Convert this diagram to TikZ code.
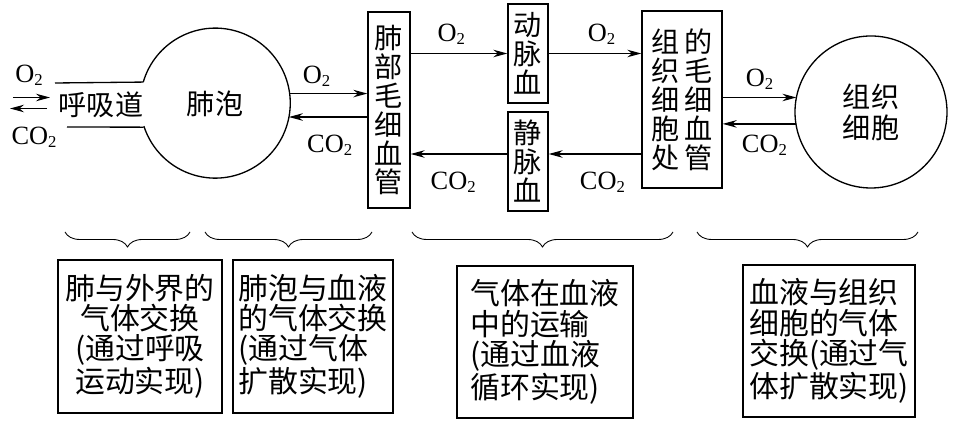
\documentclass[tikz,border=0pt]{standalone}
\usepackage{fontspec}
\setmainfont{Liberation Serif}
\newfontfamily\cjk{Noto Sans CJK SC}
\usetikzlibrary{arrows.meta,decorations.pathreplacing}
\newcommand{\Otwo}{O\lower.25ex\hbox{\fontsize{9.5}{10}\selectfont 2}}
\newcommand{\COtwo}{CO\lower.25ex\hbox{\fontsize{9.5}{10}\selectfont 2}}

\begin{document}
\begin{tikzpicture}[>={Stealth[length=2.8mm,width=1.5mm]}, line width=0.75pt,
  vbox/.style={draw, inner sep=0pt, align=center, font=\cjk\fontsize{16}{16.5}\selectfont},
  ball/.style={circle, inner sep=0pt, outer sep=0pt, align=center, font=\cjk\fontsize{16}{17.5}\selectfont},
  gas/.style={inner sep=1pt, font=\fontsize{15}{16}\selectfont},
  note/.style={draw, inner sep=0pt, font=\cjk\fontsize{17}{17.2}\selectfont},
  brc/.style={decorate, line width=0.5pt, decoration={brace, mirror, amplitude=0.3cm}}
]
\useasboundingbox (0,0) rectangle (19.24,8.46);
% cells (circles)
\node[ball, minimum size=3cm] (alv) at (4.30,6.38) {肺泡};
\node[ball, draw, minimum size=3.04cm] (tcell) at (17.42,6.22) {组织\\细胞};
\draw (alv.163.7) arc[start angle=163.7, end angle=-162.1, radius=1.5cm];
% capillaries and blood
\node[vbox, minimum width=0.84cm, minimum height=3.92cm] (lcap) at (7.78,6.26) {肺\\部\\毛\\细\\血\\管};
\node[vbox, minimum width=0.8cm, minimum height=1.98cm] (art) at (10.56,7.39) {动\\脉\\血};
\node[vbox, minimum width=0.8cm, minimum height=1.98cm] (ven) at (10.56,5.23) {静\\脉\\血};
\node[vbox, minimum width=1.6cm, minimum height=3.54cm] (tcap) at (13.64,6.47) {组\,的\\织\,毛\\细\,细\\胞\,血\\处\,管};
% airway
\node[font=\cjk\fontsize{16}{16.5}\selectfont] (airway) at (2.02,6.36) {呼吸道};
\coordinate (aw1) at (1.10,6.80);
\coordinate (aw2) at (1.34,5.92);
\draw (aw1) -- (alv.163.7);
\draw (aw2) -- (alv.-162.1);
\coordinate (inL) at (0.26,6.51);  \coordinate (inR) at (1.00,6.51);
\coordinate (outR) at (0.94,6.29); \coordinate (outL) at (0.20,6.29);
\draw[->] (inL) -- (inR);
\draw[->] (outR) -- (outL);
\node[gas] (o2a) at (0.58,6.96) {\Otwo};
\node[gas] (co2a) at (0.68,5.72) {\COtwo};
% alveolus <-> lung capillaries
\draw[->] (alv.8.4) -- (alv.8.4 -| lcap.west) node[gas, pos=0.35, above=2.5pt] (o2b) {\Otwo};
\draw[->] (alv.-10.8 -| lcap.west) -- (alv.-10.8) node[gas, pos=0.48, below=9pt] (co2b) {\COtwo};
% transport in blood
\coordinate (vin) at ([yshift=0.15cm]ven.west);
\coordinate (vout) at ([yshift=0.15cm]ven.east);
\draw[->] (art.west -| lcap.east) -- (art.west) node[gas, pos=0.42, above=4pt] (o2c) {\Otwo};
\draw[->] (art.east) -- (art.east -| tcap.west) node[gas, pos=0.57, above=4pt] (o2d) {\Otwo};
\draw[->] (vin) -- (vin -| lcap.east) node[gas, pos=0.56, below=9pt] (co2c) {\COtwo};
\draw[->] (vout -| tcap.west) -- (vout) node[gas, pos=0.42, below=9pt] (co2d) {\COtwo};
% tissue capillaries <-> tissue cells
\draw[->] (tcell.169 -| tcap.east) -- (tcell.169) node[gas, midway, above=3pt] (o2e) {\Otwo};
\draw[->] (tcell.189.1) -- (tcell.189.1 -| tcap.east) node[gas, pos=0.43, below=5pt] (co2e) {\COtwo};
% braces
\coordinate (b1l) at (1.30,3.82);  \coordinate (b1r) at (3.80,3.82);
\coordinate (b2l) at (4.10,3.82);  \coordinate (b2r) at (7.44,3.82);
\coordinate (b3l) at (8.24,3.82);  \coordinate (b3r) at (13.46,3.82);
\coordinate (b4l) at (13.94,3.82); \coordinate (b4r) at (18.36,3.82);
\draw[brc] (b1l) -- (b1r);
\draw[brc] (b2l) -- (b2r);
\draw[brc] (b3l) -- (b3r);
\draw[brc] (b4l) -- (b4r);
% stages
\node[note, align=center, minimum width=3.28cm, minimum height=3.06cm] (n1) at (2.80,1.73) {肺与外界的\\气体交换\\(通过呼吸\\运动实现)};
\node[note, align=left, minimum width=3.20cm, minimum height=3.06cm] (n2) at (6.26,1.73) {肺泡与血液\\的气体交换\\(通过气体\\扩散实现)};
\node[note, align=left, minimum width=3.52cm, minimum height=3.04cm] (n3) at (10.90,1.62) {气体在血液\\中的运输\\(通过血液\\循环实现)};
\node[note, align=left, minimum width=3.44cm, minimum height=3.04cm] (n4) at (16.58,1.64) {血液与组织\\细胞的气体\\交换(通过气\\体扩散实现)};
\end{tikzpicture}
\end{document}
